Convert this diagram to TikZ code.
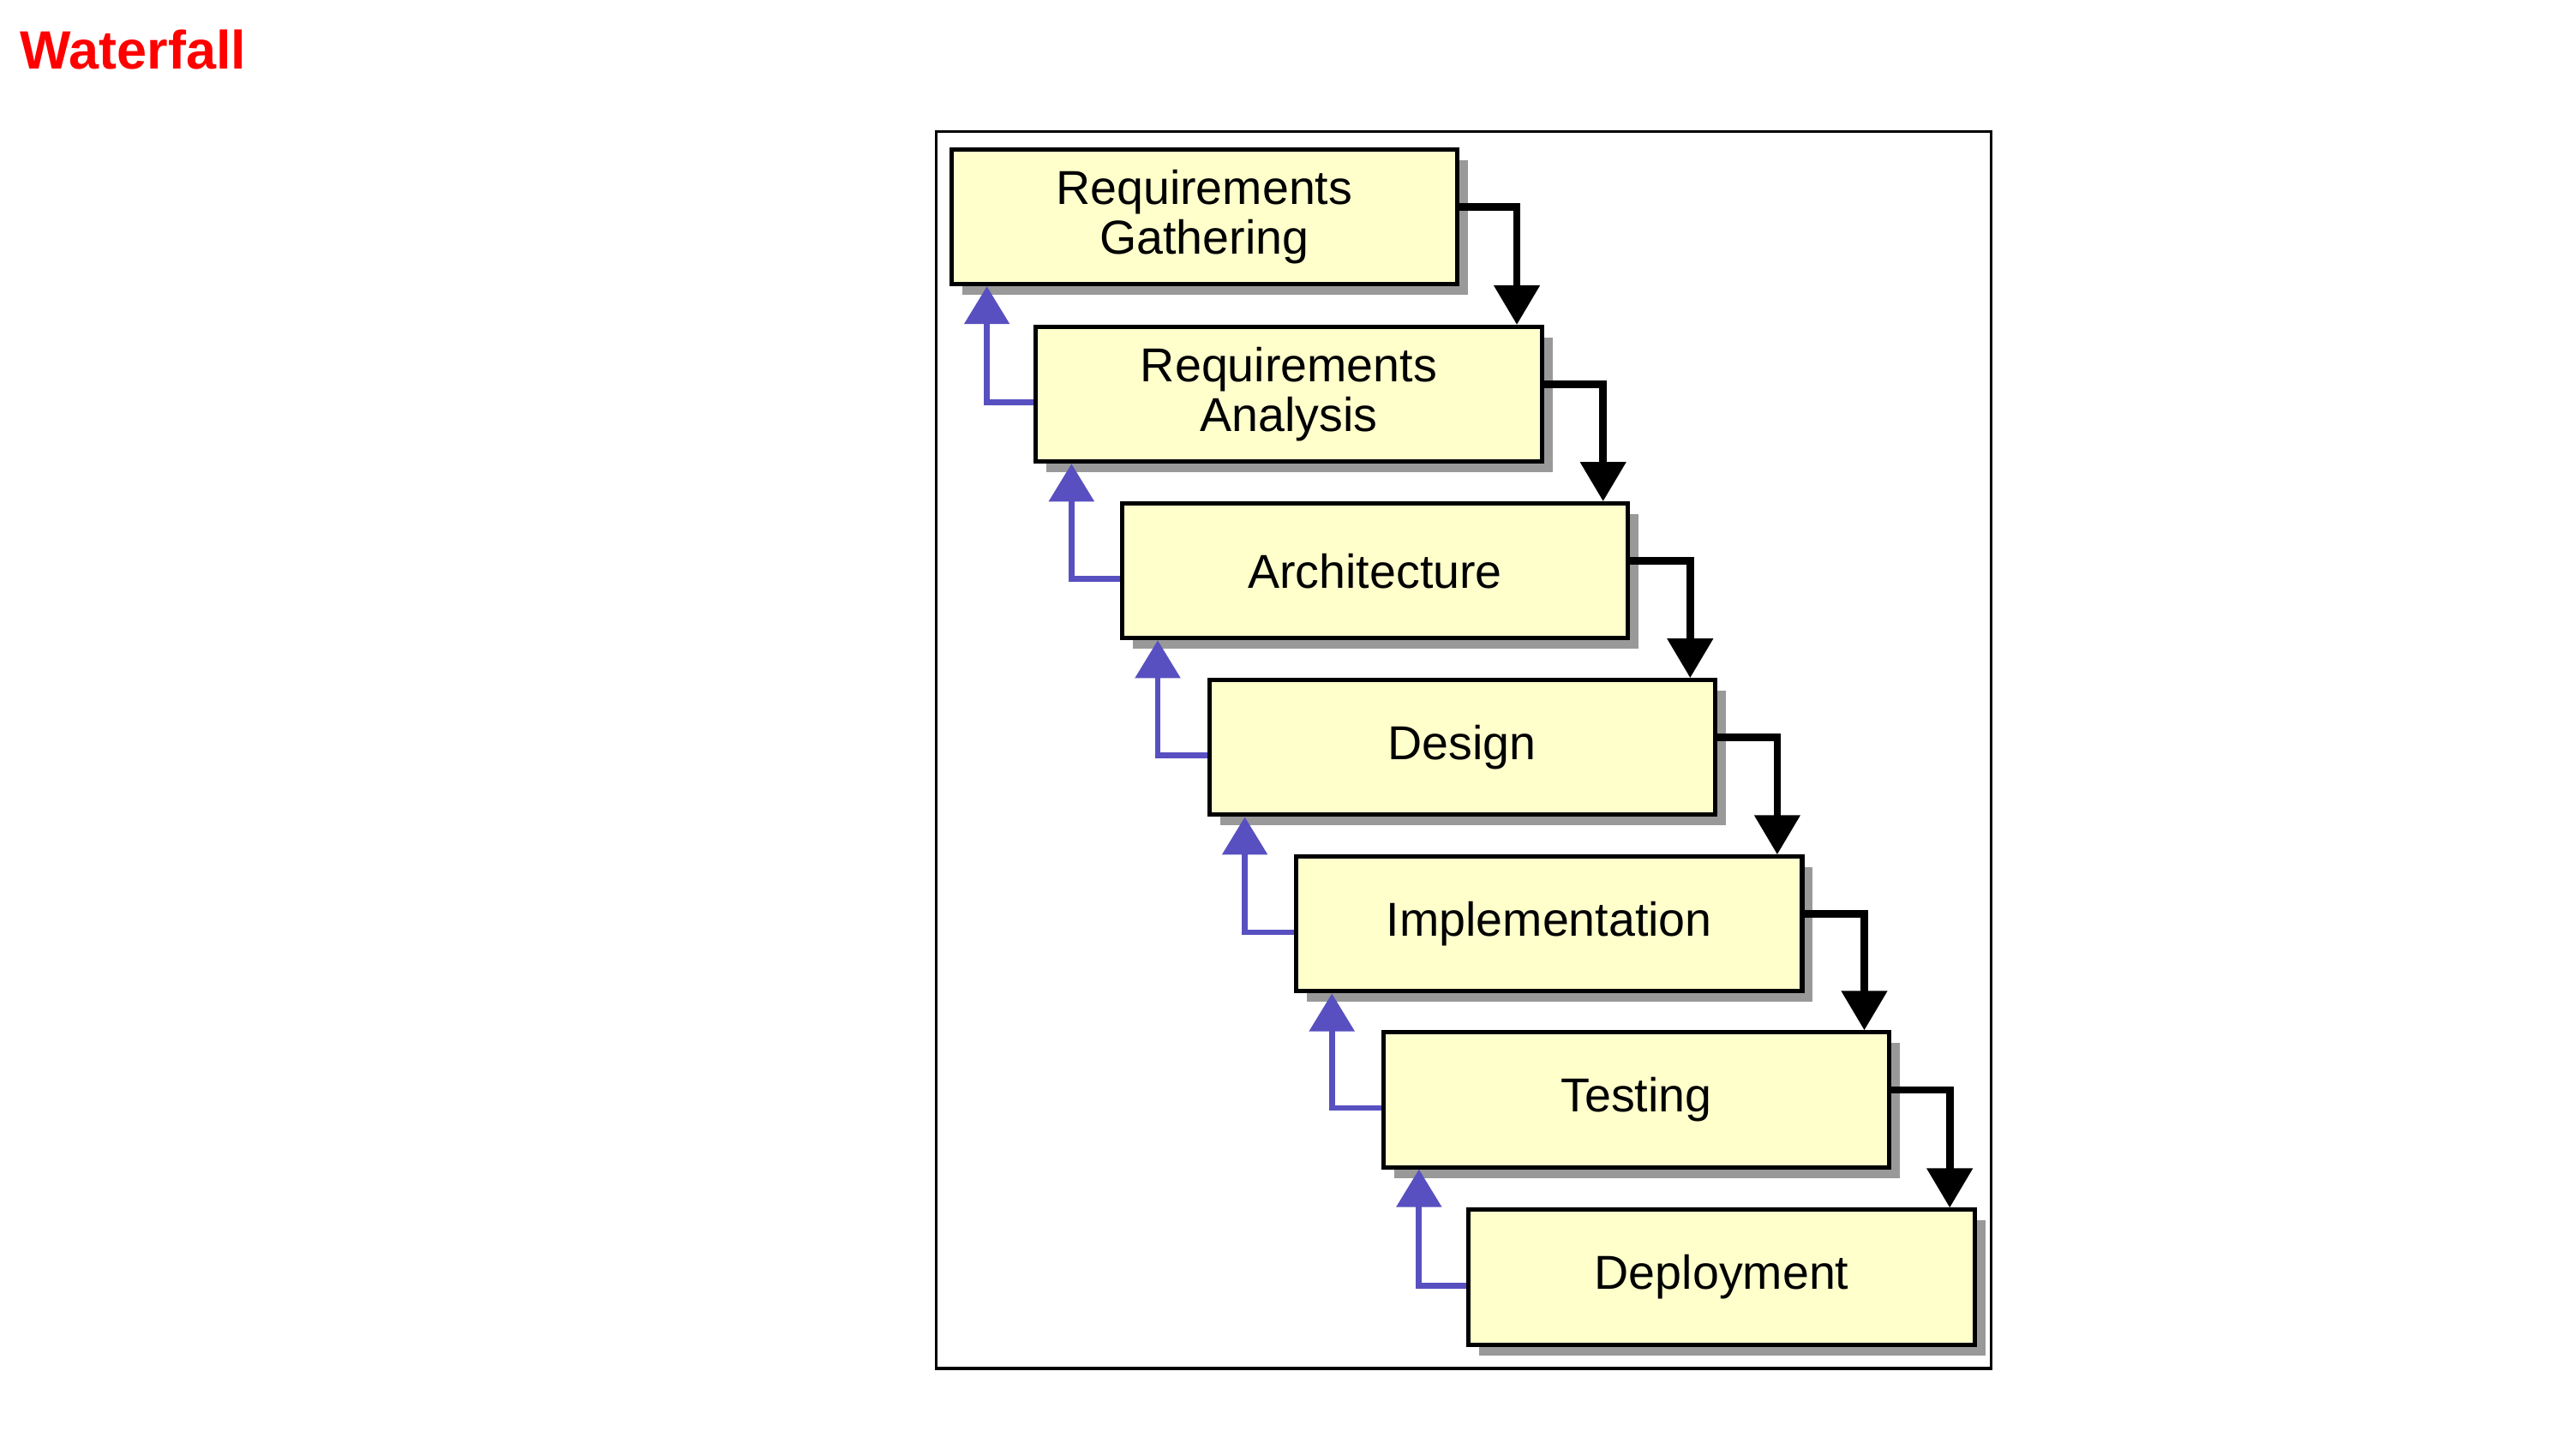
\documentclass[tikz,border=0pt]{standalone}
\usepackage{fontspec}
\setmainfont{Liberation Sans}
\usetikzlibrary{arrows.meta,shadows}
\definecolor{boxfill}{HTML}{FFFFCC}
\definecolor{shadowgray}{HTML}{999999}
\definecolor{backblue}{HTML}{5850C0}
\definecolor{titlered}{HTML}{FF0000}
\tikzset{
  phase/.style={draw=black, line width=1.5pt, fill=boxfill,
    minimum width=6.16cm, minimum height=1.64cm, inner sep=0pt,
    align=center, font=\fontsize{16.5}{18.2}\selectfont,
    drop shadow={shadow xshift=0.13cm, shadow yshift=-0.13cm, fill=shadowgray, opacity=1}},
  fwd/.style={draw=black, line width=2.6pt,
    -{Triangle[width=0.54cm, length=0.48cm]}},
  back/.style={draw=backblue, line width=2pt,
    -{Triangle[width=0.54cm, length=0.46cm]}},
  frame/.style={draw=black, line width=1pt},
  title/.style={anchor=west, inner sep=0pt, text=titlered,
    font=\fontsize{18.7}{22}\selectfont\bfseries}
}
\begin{document}
\begin{tikzpicture}[x=0.02cm, y=-0.02cm]
\useasboundingbox (0,0) rectangle (1568,878);
\node[title] (t) at (12,30) {Waterfall};
\draw[frame] (570,80) rectangle (1212,833);
\node[phase] (b1) at (733,132) {Requirements\\[-1pt]Gathering};
\node[phase] (b2) at (784.5,240) {Requirements\\[-1pt]Analysis};
\node[phase] (b3) at (837,347.5) {Architecture};
\node[phase] (b4) at (890,455) {Design};
\node[phase] (b5) at (943,562.5) {Implementation};
\node[phase] (b6) at (996,669.5) {Testing};
\node[phase] (b7) at (1048,777.5) {Deployment};
\foreach \a/\b in {b1/b2,b2/b3,b3/b4,b4/b5,b5/b6,b6/b7}{
  \draw[fwd] ([yshift=0.12cm]\a.east) -| ([xshift=-0.33cm]\b.north east);
  \draw[back] ([yshift=-0.1cm]\b.west) -| ([xshift=0.46cm]\a.south west);
}
\end{tikzpicture}
\end{document}
